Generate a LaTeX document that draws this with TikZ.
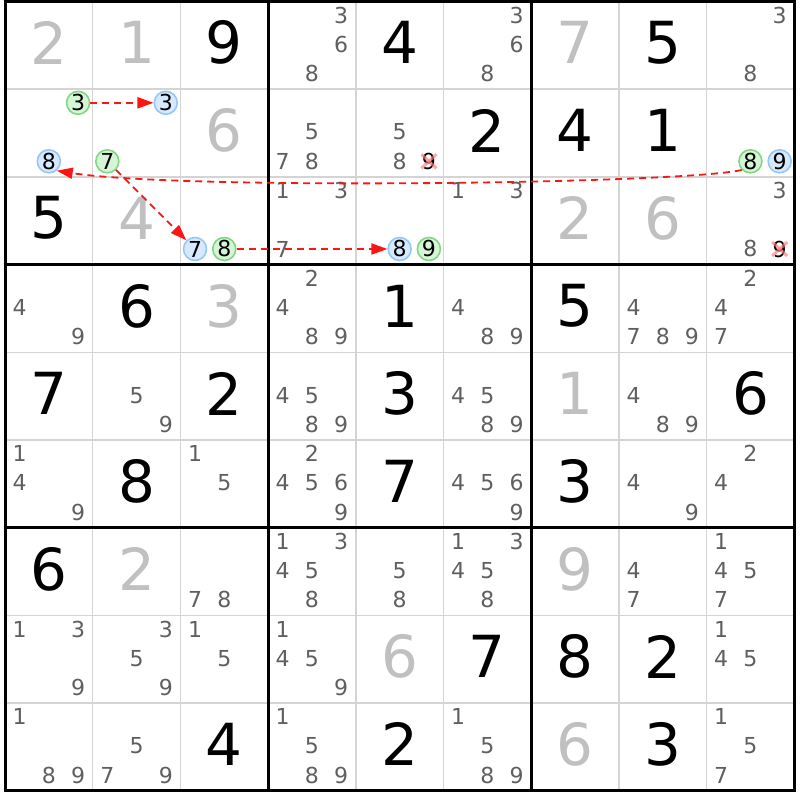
\documentclass[tikz,border=0pt]{standalone}
\usepackage{fontspec}
\setmainfont{DejaVu Sans}
\usetikzlibrary{arrows.meta}
\definecolor{candgray}{RGB}{95,95,95}
\definecolor{solvedgray}{RGB}{192,192,192}
\definecolor{thingray}{RGB}{212,212,212}
\definecolor{hlgreenfill}{RGB}{214,245,214}
\definecolor{hlgreen}{RGB}{130,215,130}
\definecolor{hlbluefill}{RGB}{214,233,255}
\definecolor{hlblue}{RGB}{150,200,245}
\definecolor{chainred}{RGB}{255,20,20}
\definecolor{crossred}{RGB}{255,120,120}
\newcommand\C{87.7}
\newcommand\gpos[2]{({5+(#2-0.5)*\C},{-1+(#1-0.5)*\C})}
\newcommand\cpos[3]{({5+(#2-1)*\C+(mod(#3-1,3)+0.5)*\C/3},{0.5+(#1-1)*\C+(floor((#3-1)/3)+0.5)*\C/3})}
\newcommand\given[3]{\node[givendigit] (v#1#2) at \gpos{#1}{#2} {#3};}
\newcommand\solved[3]{\node[solveddigit] (v#1#2) at \gpos{#1}{#2} {#3};}
\newcommand\cands[3]{\foreach \d in {#3} {\node[cand] (c#1#2\d) at \cpos{#1}{#2}{\d} {\d};}}
\begin{document}
\begin{tikzpicture}[x=1pt,y=-1pt,
  givendigit/.style={font=\fontsize{58}{58}\selectfont, text=black, inner sep=0pt},
  solveddigit/.style={givendigit, text=solvedgray},
  cand/.style={font=\fontsize{22}{22}\selectfont, text=candgray, inner sep=0pt},
  elimcand/.style={cand, text=black},
  hlg/.style={cand, text=black, circle, draw=hlgreen, fill=hlgreenfill, line width=1.6pt, minimum size=23pt},
  hlb/.style={cand, text=black, circle, draw=hlblue, fill=hlbluefill, line width=1.6pt, minimum size=23pt},
  thinline/.style={draw=thingray, line width=1.5pt},
  thickline/.style={draw=black, line width=3pt},
  xmark/.style={draw=crossred, line width=3pt, opacity=0.65},
  chain/.style={draw=chainred, dash pattern=on 7pt off 5pt, line width=1.8pt, -{Triangle[length=16pt,width=11pt]}}]
\useasboundingbox (0,0) rectangle (800,800);
\fill[white] (0,0) rectangle (800,800);
% grid
\foreach \i in {1,2,4,5,7,8} {
  \draw[thinline] ({5+\i*\C},1.5) -- ({5+\i*\C},{1.5+9*\C});
  \draw[thinline] (5,{1.5+\i*\C}) -- ({5+9*\C},{1.5+\i*\C});
}
\foreach \i in {0,3,6,9} {
  \draw[thickline] ({5+\i*\C},0) -- ({5+\i*\C},{3+9*\C});
  \draw[thickline] (3.5,{1.5+\i*\C}) -- ({6.5+9*\C},{1.5+\i*\C});
}
% row 1
\solved{1}{1}{2} \solved{1}{2}{1} \given{1}{3}{9} \cands{1}{4}{3,6,8}
\given{1}{5}{4} \cands{1}{6}{3,6,8} \solved{1}{7}{7} \given{1}{8}{5} \cands{1}{9}{3,8}
% row 2
\node[hlg] (c213) at \cpos{2}{1}{3} {3};
\node[hlb] (c218) at \cpos{2}{1}{8} {8};
\node[hlb] (c223) at \cpos{2}{2}{3} {3};
\node[hlg] (c227) at \cpos{2}{2}{7} {7};
\solved{2}{3}{6} \cands{2}{4}{5,7,8} \cands{2}{5}{5,8}
\node[elimcand] (c259) at (428.9,161.3) {9};
\draw[xmark] ([shift={(-7.5,-7)}]c259.center) -- ([shift={(7.5,7)}]c259.center);
\draw[xmark] ([shift={(-7.5,7)}]c259.center) -- ([shift={(7.5,-7)}]c259.center);
\given{2}{6}{2} \given{2}{7}{4} \given{2}{8}{1}
\node[hlg] (c298) at \cpos{2}{9}{8} {8};
\node[hlb] (c299) at \cpos{2}{9}{9} {9};
% row 3
\given{3}{1}{5} \solved{3}{2}{4}
\node[hlb] (c337) at \cpos{3}{3}{7} {7};
\node[hlg] (c338) at \cpos{3}{3}{8} {8};
\cands{3}{4}{1,3,7}
\node[hlb] (c358) at \cpos{3}{5}{8} {8};
\node[hlg] (c359) at \cpos{3}{5}{9} {9};
\cands{3}{6}{1,3} \solved{3}{7}{2} \solved{3}{8}{6} \cands{3}{9}{3,8}
\node[elimcand] (c399) at (779.7,249.0) {9};
\draw[xmark] ([shift={(-7.5,-7)}]c399.center) -- ([shift={(7.5,7)}]c399.center);
\draw[xmark] ([shift={(-7.5,7)}]c399.center) -- ([shift={(7.5,-7)}]c399.center);
% row 4
\cands{4}{1}{4,9} \given{4}{2}{6} \solved{4}{3}{3} \cands{4}{4}{2,4,8,9} \given{4}{5}{1}
\cands{4}{6}{4,8,9} \given{4}{7}{5} \cands{4}{8}{4,7,8,9} \cands{4}{9}{2,4,7}
% row 5
\given{5}{1}{7} \cands{5}{2}{5,9} \given{5}{3}{2} \cands{5}{4}{4,5,8,9} \given{5}{5}{3}
\cands{5}{6}{4,5,8,9} \solved{5}{7}{1} \cands{5}{8}{4,8,9} \given{5}{9}{6}
% row 6
\cands{6}{1}{1,4,9} \given{6}{2}{8} \cands{6}{3}{1,5} \cands{6}{4}{2,4,5,6,9} \given{6}{5}{7}
\cands{6}{6}{4,5,6,9} \given{6}{7}{3} \cands{6}{8}{4,9} \cands{6}{9}{2,4}
% row 7
\given{7}{1}{6} \solved{7}{2}{2} \cands{7}{3}{7,8} \cands{7}{4}{1,3,4,5,8} \cands{7}{5}{5,8}
\cands{7}{6}{1,3,4,5,8} \solved{7}{7}{9} \cands{7}{8}{4,7} \cands{7}{9}{1,4,5,7}
% row 8
\cands{8}{1}{1,3,9} \cands{8}{2}{3,5,9} \cands{8}{3}{1,5} \cands{8}{4}{1,4,5,9} \solved{8}{5}{6}
\given{8}{6}{7} \given{8}{7}{8} \given{8}{8}{2} \cands{8}{9}{1,4,5}
% row 9
\cands{9}{1}{1,8,9} \cands{9}{2}{5,7,9} \given{9}{3}{4} \cands{9}{4}{1,5,8,9} \given{9}{5}{2}
\cands{9}{6}{1,5,8,9} \solved{9}{7}{6} \given{9}{8}{3} \cands{9}{9}{1,5,7}
% chain
\draw[chain] (c213) -- (c223);
\draw[chain] (c227) -- (c337);
\draw[chain] (c338) -- (c358);
\draw[chain] (c298.-135) .. controls (680,184) and (180,190) .. (c218.-50);
\end{tikzpicture}
\end{document}
